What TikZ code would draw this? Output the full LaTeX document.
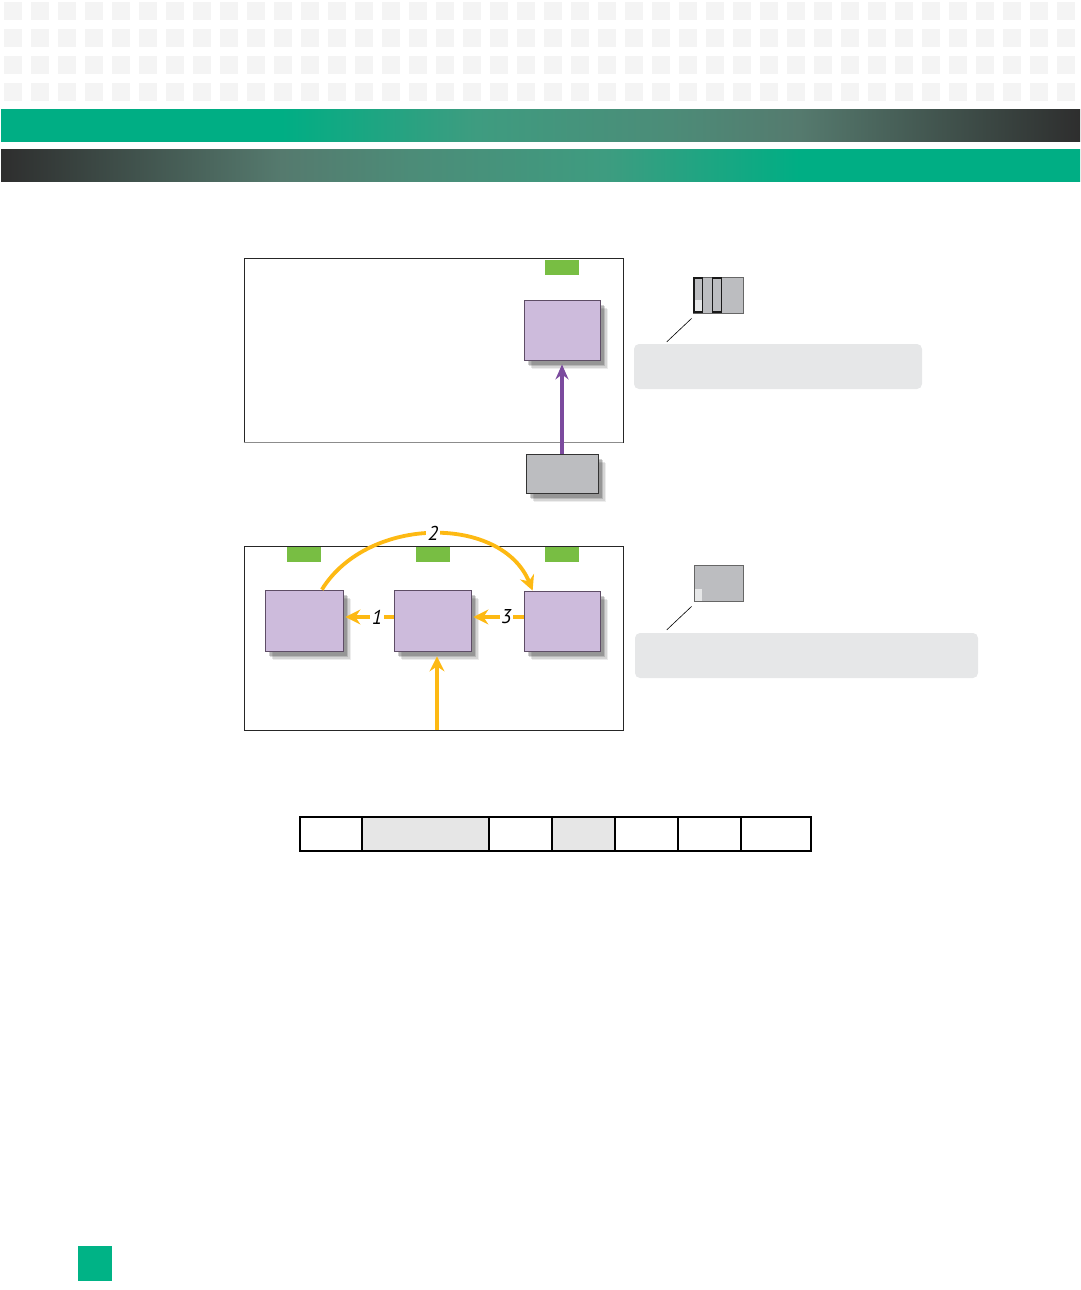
\documentclass[tikz,border=0pt]{standalone}
\usepackage{fontspec}
\setsansfont{PT Sans}
\usetikzlibrary{arrows.meta,shadows,calc}
\definecolor{kgreen}{HTML}{00AE84}
\definecolor{kdark}{HTML}{2E2E2E}
\definecolor{kmid}{HTML}{557A6E}
\definecolor{kmidb}{HTML}{3E9C80}
\definecolor{kmidc}{HTML}{4C8C78}
\definecolor{hdrsq}{HTML}{F4F4F4}
\definecolor{lilac}{HTML}{CDBBDC}
\definecolor{lilacedge}{HTML}{5E4D66}
\definecolor{slotgrey}{HTML}{BCBDC0}
\definecolor{calloutgrey}{HTML}{E6E7E8}
\definecolor{cellgrey}{HTML}{E6E6E6}
\definecolor{tabgreen}{HTML}{78BE43}
\definecolor{kpurple}{HTML}{7B4A9E}
\definecolor{korange}{HTML}{FDB913}
\definecolor{pagegreen}{HTML}{00B386}
\pgfdeclarehorizontalshading{barA}{100bp}{color(0bp)=(kgreen); color(38bp)=(kgreen); color(47bp)=(kmidb); color(56bp)=(kmidc); color(62bp)=(kmid); color(75bp)=(kdark); color(100bp)=(kdark)}
\pgfdeclarehorizontalshading{barB}{100bp}{color(0bp)=(kdark); color(25bp)=(kdark); color(38bp)=(kmid); color(44bp)=(kmidc); color(53bp)=(kmidb); color(62bp)=(kgreen); color(100bp)=(kgreen)}
\tikzset{
  box/.style={draw=lilacedge, line width=0.8pt, fill=lilac, inner sep=0pt,
    drop shadow={shadow xshift=8pt, shadow yshift=-9pt, opacity=0.07, fill=black},
    drop shadow={shadow xshift=6.5pt, shadow yshift=-7.5pt, opacity=0.10, fill=black},
    drop shadow={shadow xshift=5pt, shadow yshift=-6pt, opacity=0.14, fill=black},
    drop shadow={shadow xshift=3.5pt, shadow yshift=-4.5pt, opacity=0.18, fill=black}},
  greybox/.style={box, fill=slotgrey, draw=black!80},
  tab/.style={fill=tabgreen, inner sep=0pt, minimum width=34pt, minimum height=15pt},
  frame/.style={draw=black!85, line width=0.8pt, inner sep=0pt},
  callout/.style={fill=calloutgrey, rounded corners=5pt, inner sep=0pt},
  leader/.style={draw=black, line width=0.6pt},
  cell/.style={draw=black, line width=1.2pt, inner sep=0pt, outer sep=0pt, minimum height=34pt},
  lbl/.style={fill=white, inner sep=1.5pt, font=\sffamily\itshape\fontsize{20}{20}\selectfont},
  oarrow/.style={draw=korange, line width=3.8pt, -{Stealth[length=15pt,width=15pt,inset=5pt]}},
  parrow/.style={draw=kpurple, line width=3.2pt, -{Stealth[length=15pt,width=13pt,inset=5pt]}},
}
\begin{document}
\begin{tikzpicture}[x=1pt,y=-1pt]
\useasboundingbox (0,0) rectangle (1080,1290);
% header squares
\foreach \r in {0,...,3}{
  \foreach \c in {0,...,39}{
    \fill[hdrsq] ({4+27*\c},{2+27*\r}) rectangle ++(18,18);
  }
}
\shade[shading=barA] (1,109) rectangle (1080,141);
\shade[shading=barB] (1,149) rectangle (1080,181);

% upper frame
\node[frame, minimum width=379pt, minimum height=184pt] (f1) at (433.5,350) {};
\draw[black!45, line width=1.2pt] (f1.south west) -- (f1.south east);
\node[tab] (t1) at (561.5,267.5) {};
\node[box, minimum width=76pt, minimum height=60pt] (p1) at (562,330) {};
\node[greybox, minimum width=72pt, minimum height=39pt] (g1) at (562,473.5) {};
\draw[parrow, shorten >=4pt] (g1.north) -- (p1.south);

% icon 1 + callout
\node[draw=black!60, line width=0.8pt, fill=slotgrey, inner sep=0pt, minimum width=50pt, minimum height=36pt] (ic1) at (718,295) {};
\fill[calloutgrey] (694,300) rectangle (702,312.5);
\draw[black!90, line width=1.6pt] (693.8,277.8) rectangle (702.5,312.2);
\draw[black!90, line width=1.6pt] (712.5,277.8) rectangle (721.5,312.2);
\node[callout, minimum width=288pt, minimum height=45pt] (c1) at (778,366.5) {};
\draw[leader] ($(ic1.south west)+(-1,5)$) -- ($(c1.north west)+(33,-2)$);

% lower frame
\node[frame, minimum width=379pt, minimum height=184pt] (f2) at (433.5,638) {};
\node[tab] (t2) at (303.5,554.5) {};
\node[tab] (t3) at (433,554.5) {};
\node[tab] (t4) at (561.5,554.5) {};
\node[box, minimum width=78pt, minimum height=61pt] (b1) at (304,620.5) {};
\node[box, minimum width=77pt, minimum height=61pt] (b2) at (432.5,620.5) {};
\node[box, minimum width=76pt, minimum height=60pt] (b3) at (562,621) {};
\draw[oarrow, shorten >=2pt] (b2.west |- 0,617) -- node[lbl, pos=0.33] {1} (b1.east |- 0,617);
\draw[oarrow, shorten >=2pt] (b3.west |- 0,617) -- node[lbl, pos=0.33] {3} (b2.east |- 0,617);
\draw[oarrow] (b1.60) .. controls (368,515) and (502,515) .. node[lbl, pos=0.5] {2} (b3.134);
\coordinate (src) at (437,730);
\draw[oarrow, shorten >=5pt] (src) -- (src |- b2.south);

% icon 2 + callout
\node[draw=black!60, line width=0.8pt, fill=slotgrey, inner sep=0pt, minimum width=49pt, minimum height=36pt] (ic2) at (718.5,583) {};
\fill[calloutgrey] (695,588.5) rectangle (701.5,600.5);
\node[callout, minimum width=343pt, minimum height=45pt] (c2) at (806.5,655.5) {};
\draw[leader] ($(ic2.south west)+(-2,5)$) -- ($(c2.north west)+(32,-3)$);

% table
\node[cell, minimum width=62pt, anchor=west] (k1) at (300,834) {};
\node[cell, fill=cellgrey, minimum width=127pt, anchor=west] (k2) at (k1.east) {};
\node[cell, minimum width=63pt, anchor=west] (k3) at (k2.east) {};
\node[cell, fill=cellgrey, minimum width=63pt, anchor=west] (k4) at (k3.east) {};
\node[cell, minimum width=63pt, anchor=west] (k5) at (k4.east) {};
\node[cell, minimum width=63pt, anchor=west] (k6) at (k5.east) {};
\node[cell, minimum width=70pt, anchor=west] (k7) at (k6.east) {};

% page marker
\fill[pagegreen] (78,1246) rectangle (112,1281);
\end{tikzpicture}
\end{document}
